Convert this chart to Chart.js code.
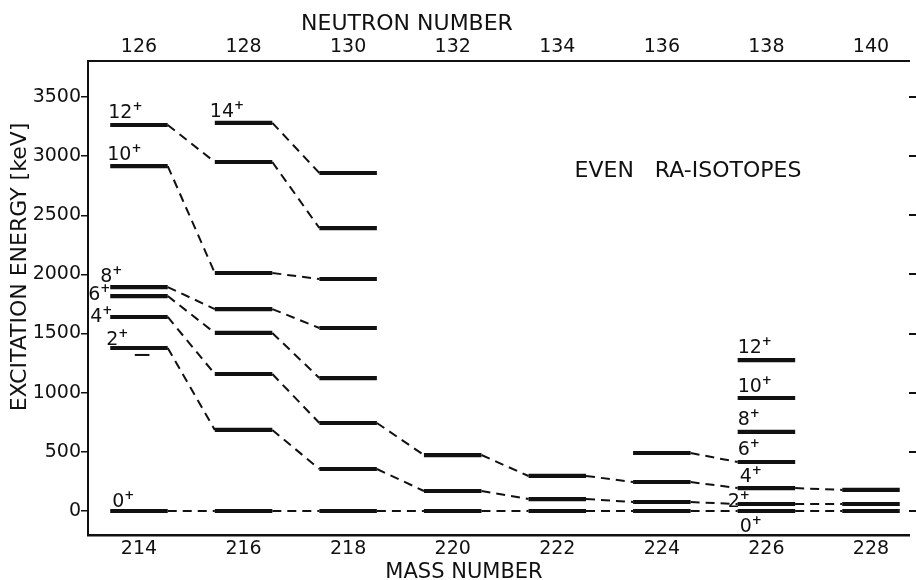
<!DOCTYPE html>
<html>
<head>
<meta charset="utf-8">
<script src="https://cdn.jsdelivr.net/npm/chart.js@4.4.1/dist/chart.umd.min.js"></script>
<style>
  html, body { margin: 0; padding: 0; background: #fff; }
  #levels { display: block; }
</style>
</head>
<body>
<canvas id="levels" width="916" height="580"></canvas>
<script>
// Mass numbers of the even Ra isotopes (bottom axis), neutron numbers (top axis)
const massNumbers = [214, 216, 218, 220, 222, 224, 226, 228];
const neutronTicks = [126, 128, 130, 132, 134, 136, 138, 140];
const energyTicks = [0, 500, 1000, 1500, 2000, 2500, 3000, 3500];
const protonNumber = 88; // N = A - Z

// Level energies in keV, one per isotope (null = not drawn)
const e0  = [0, 0, 0, 0, 0, 0, 0, 0];
const e2  = [1378, 685, 355, 169, 101, 76, 59, 59];
const e4  = [1640, 1158, 744, 473, 296, 245, 194, 178];
const e6  = [1817, 1505, 1124, null, null, 490, 414, null];
const e8  = [1893, 1707, 1547, null, null, null, 668, null];
const e10 = [2916, 2012, 1961, null, null, null, 955, null];
const e12 = [3263, 2950, 2392, null, null, null, 1276, null];
const e14 = [null, 3281, 2857, null, null, null, null, null];

// short stray level drawn under the 2+ of 214Ra
const strayMass = [214];
const strayEnergy = [1319];

const ink = '#111';
const fontFam = '"DejaVu Sans", sans-serif';
const halfWidth = 0.55;   // half length of a level bar, in mass units

// turn one spin series into bar + connector points
function levelPoints(energies) {
    const pts = [];
    energies.forEach((e, i) => {
        const A = massNumbers[i];
        if (e === null) {
            pts.push({ x: A, y: null });
            return;
        }
        pts.push({ x: A - halfWidth, y: e, side: 'L' });
        pts.push({ x: A + halfWidth, y: e, side: 'R' });
    });
    return pts;
}

const allSeries = [e0, e2, e4, e6, e8, e10, e12, e14];
const datasets = allSeries.map(s => ({
    data: levelPoints(s),
    borderColor: ink,
    borderWidth: 2,
    pointRadius: 0,
    spanGaps: false,
    segment: {
        // a level bar is solid and thick, the link to the next isotope is dashed
        borderWidth: ctx => (ctx.p0.raw && ctx.p0.raw.side === 'L') ? 4.2 : 2,
        borderDash: ctx => (ctx.p0.raw && ctx.p0.raw.side === 'L') ? [] : [9, 6]
    }
}));
datasets.push({
    data: [{ x: strayMass[0] - 0.08, y: strayEnergy[0] }, { x: strayMass[0] + 0.2, y: strayEnergy[0] }],
    borderColor: ink,
    borderWidth: 2,
    pointRadius: 0
});

// spin labels, placed next to the left end of a level
const spinLabels = [
    { spin: '12', s: e12, A: 214, dx: -2, dy: -7 },
    { spin: '10', s: e10, A: 214, dx: -3, dy: -6 },
    { spin: '8',  s: e8,  A: 214, dx: -10, dy: -5 },
    { spin: '6',  s: e6,  A: 214, dx: -22, dy: 4 },
    { spin: '4',  s: e4,  A: 214, dx: -20, dy: 5 },
    { spin: '2',  s: e2,  A: 214, dx: -4, dy: -3 },
    { spin: '0',  s: e0,  A: 214, dx: 2, dy: -4 },
    { spin: '14', s: e14, A: 216, dx: -5, dy: -6 },
    { spin: '12', s: e12, A: 226, dx: 0, dy: -7 },
    { spin: '10', s: e10, A: 226, dx: 0, dy: -6 },
    { spin: '8',  s: e8,  A: 226, dx: 0, dy: -7 },
    { spin: '6',  s: e6,  A: 226, dx: 0, dy: -7 },
    { spin: '4',  s: e4,  A: 226, dx: 2, dy: -6 },
    { spin: '2',  s: e2,  A: 226, dx: -10, dy: 3 },
    { spin: '0',  s: e0,  A: 226, dx: 2, dy: 21 }
];

const textPlugin = {
    id: 'textPlugin',
    afterDraw(chart) {
        const ctx = chart.ctx;
        const xs = chart.scales.x;
        const ys = chart.scales.y;
        ctx.save();
        ctx.fillStyle = ink;
        ctx.textBaseline = 'alphabetic';

        // spin labels with a raised plus sign
        spinLabels.forEach(l => {
            const idx = massNumbers.indexOf(l.A);
            const px = xs.getPixelForValue(l.A - halfWidth) + l.dx;
            const py = ys.getPixelForValue(l.s[idx]) + l.dy;
            ctx.textAlign = 'left';
            ctx.font = '19px ' + fontFam;
            ctx.fillText(l.spin, px, py);
            const w = ctx.measureText(l.spin).width;
            ctx.font = 'bold 12px ' + fontFam;
            ctx.fillText('+', px + w, py - 8);
        });

        // title inside the frame
        ctx.font = '22px ' + fontFam;
        ctx.textAlign = 'center';
        ctx.fillText('EVEN   RA-ISOTOPES', xs.getPixelForValue(224.5), ys.getPixelForValue(2890) + 8);

        // axis titles
        ctx.fillText('NEUTRON NUMBER', 407, 30);
        ctx.font = '21px ' + fontFam;
        ctx.fillText('MASS NUMBER', 464, 578);
        ctx.translate(26, 267);
        ctx.rotate(-Math.PI / 2);
        ctx.font = '22px ' + fontFam;
        ctx.fillText('EXCITATION ENERGY [keV]', 0, 0);
        ctx.restore();
    }
};

const xMin = 213.025;
const xMax = 228.727;
const yMin = -203;
const yMax = 3804;
const tickFont = { family: fontFam, size: 19 };

let levelChart = new Chart(document.getElementById('levels'), {
    type: 'line',
    data: { datasets: datasets },
    options: {
        responsive: false,
        animation: false,
        layout: { padding: 0 },
        plugins: {
            legend: { display: false },
            tooltip: { enabled: false }
        },
        scales: {
            x: {
                type: 'linear',
                position: 'bottom',
                min: xMin,
                max: xMax,
                afterBuildTicks: axis => { axis.ticks = massNumbers.map(v => ({ value: v })); },
                afterFit: axis => { axis.height = 45; },
                grid: { display: false, drawTicks: false },
                border: { display: true, color: ink, width: 2.5 },
                ticks: { color: ink, padding: 3, font: tickFont, callback: v => v }
            },
            x2: {
                type: 'linear',
                position: 'top',
                min: xMin - protonNumber,
                max: xMax - protonNumber,
                afterBuildTicks: axis => { axis.ticks = neutronTicks.map(v => ({ value: v })); },
                afterFit: axis => { axis.height = 61; },
                grid: { display: false, drawTicks: false },
                border: { display: true, color: ink, width: 2 },
                ticks: { color: ink, padding: 3, font: tickFont, callback: v => v }
            },
            y: {
                type: 'linear',
                position: 'left',
                min: yMin,
                max: yMax,
                afterBuildTicks: axis => { axis.ticks = energyTicks.map(v => ({ value: v })); },
                afterFit: axis => { axis.width = 88; },
                grid: { drawOnChartArea: false, drawTicks: true, tickLength: 7, color: ink, lineWidth: 1.5 },
                border: { display: true, color: ink, width: 2 },
                ticks: { color: ink, padding: 0, font: tickFont, callback: v => v }
            },
            y2: {
                type: 'linear',
                position: 'right',
                min: yMin,
                max: yMax,
                afterBuildTicks: axis => { axis.ticks = energyTicks.map(v => ({ value: v })); },
                afterFit: axis => { axis.width = 7; },
                grid: { drawOnChartArea: false, drawTicks: true, tickLength: 7, color: ink, lineWidth: 2 },
                border: { display: false },
                ticks: { display: false }
            }
        }
    },
    plugins: [textPlugin]
});
</script>
</body>
</html>
